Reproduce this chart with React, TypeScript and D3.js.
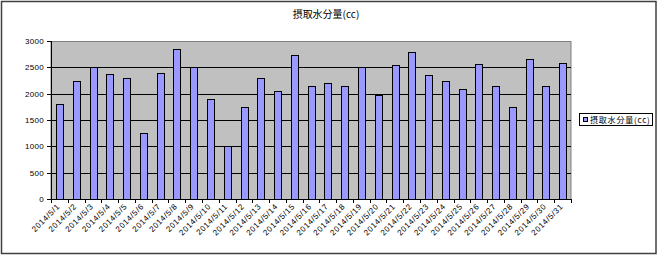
import React, { useEffect, useRef } from "react";
import * as d3 from "d3";

const categories: string[] = Array.from({ length: 31 }, (_, i) => `2014/5/${i + 1}`);
const values: number[] = [
  1800, 2250, 2500, 2380, 2300, 1250, 2400, 2850, 2500, 1900,
  1000, 1750, 2300, 2050, 2730, 2150, 2200, 2150, 2500, 1970,
  2540, 2800, 2360, 2250, 2080, 2560, 2150, 1750, 2650, 2150, 2590,
];
const yTicks: number[] = [0, 500, 1000, 1500, 2000, 2500, 3000];
const title = "摂取水分量(cc)";
const seriesName = "摂取水分量(cc)";

const W = 658;
const H = 255;
const plot = { left: 51, right: 571, top: 41, bottom: 199 };

export default function App() {
  const ref = useRef<SVGSVGElement>(null);
  useEffect(() => {
    const svg = d3.select(ref.current);
    svg.selectAll("*").remove();
    const font = "'Liberation Sans', 'Noto Sans CJK JP', sans-serif";
    const jfont = "'Noto Sans CJK JP', sans-serif";

    svg.append("rect").attr("x", 0).attr("y", 0).attr("width", W).attr("height", H).attr("fill", "#ffffff");
    svg.append("rect").attr("x", 1.5).attr("y", 1.5).attr("width", W - 3.5).attr("height", H - 3)
      .attr("fill", "#ffffff").attr("stroke", "#404040").attr("stroke-width", 1.5);

    const x = d3.scaleBand<string>().domain(categories).range([plot.left, plot.right]).paddingInner(0.6).paddingOuter(0.3);
    const xb = d3.scaleBand<string>().domain(categories).range([plot.left, plot.right]);
    const y = d3.scaleLinear().domain([0, 3000]).range([plot.bottom, plot.top]);

    svg.append("rect").attr("x", plot.left).attr("y", plot.top + 0.5)
      .attr("width", plot.right - plot.left).attr("height", plot.bottom - plot.top)
      .attr("fill", "#c0c0c0").attr("stroke", "#808080").attr("stroke-width", 1);

    svg.append("g").selectAll("line").data(yTicks.filter(t => t > 0 && t < 3000)).join("line")
      .attr("x1", plot.left).attr("x2", plot.right)
      .attr("y1", d => Math.round(y(d)) + 0.5).attr("y2", d => Math.round(y(d)) + 0.5)
      .attr("stroke", "#000000").attr("stroke-width", 1);

    svg.append("g").selectAll("rect").data(values).join("rect")
      .attr("x", (_, i) => Math.round(x(categories[i])!) + 0.5)
      .attr("y", d => Math.round(y(d)) + 0.5)
      .attr("width", Math.round(x.bandwidth()))
      .attr("height", d => Math.round(plot.bottom) - Math.round(y(d)))
      .attr("fill", "#9999ff").attr("stroke", "#000000").attr("stroke-width", 1);

    // axes
    svg.append("line").attr("x1", plot.left + 0.5).attr("x2", plot.left + 0.5)
      .attr("y1", plot.top).attr("y2", plot.bottom).attr("stroke", "#000").attr("stroke-width", 1);
    svg.append("line").attr("x1", plot.left).attr("x2", plot.right)
      .attr("y1", plot.bottom + 0.5).attr("y2", plot.bottom + 0.5).attr("stroke", "#000").attr("stroke-width", 1);

    svg.append("g").selectAll("line").data(yTicks).join("line")
      .attr("x1", plot.left - 4).attr("x2", plot.left)
      .attr("y1", d => Math.round(y(d)) + 0.5).attr("y2", d => Math.round(y(d)) + 0.5)
      .attr("stroke", "#000");
    svg.append("g").selectAll("text").data(yTicks).join("text")
      .attr("x", plot.left - 7).attr("y", d => y(d) + 3)
      .attr("text-anchor", "end").attr("font-family", font).attr("font-size", 8)
      .attr("letter-spacing", 0.3)
      .attr("fill", "#000").text(d => String(d));

    const bounds = [...categories.map(c => xb(c)!), plot.right];
    svg.append("g").selectAll("line").data(bounds).join("line")
      .attr("x1", d => Math.round(d) + 0.5).attr("x2", d => Math.round(d) + 0.5)
      .attr("y1", plot.bottom).attr("y2", plot.bottom + 4).attr("stroke", "#000");

    svg.append("g").selectAll("text").data(categories).join("text")
      .attr("transform", c => `translate(${xb(c)! + xb.bandwidth() / 2 + 1},${plot.bottom + 8}) rotate(-45)`)
      .attr("text-anchor", "end").attr("font-family", font).attr("font-size", 8)
      .attr("letter-spacing", 0.6)
      .attr("fill", "#000").text(c => c);

    svg.append("text").attr("x", 326).attr("y", 18).attr("text-anchor", "middle")
      .attr("font-family", jfont).attr("font-size", 10).attr("fill", "#000").text(title);

    // legend
    svg.append("rect").attr("x", 579.5).attr("y", 113.5).attr("width", 73).attr("height", 12)
      .attr("fill", "#fff").attr("stroke", "#000").attr("stroke-width", 1);
    svg.append("rect").attr("x", 583.5).attr("y", 117.5).attr("width", 4).attr("height", 4)
      .attr("fill", "#9999ff").attr("stroke", "#000");
    svg.append("text").attr("x", 590).attr("y", 122.5).attr("font-family", jfont)
      .attr("font-size", 8).attr("letter-spacing", 0.8).attr("fill", "#000").text(seriesName);
  }, []);
  return (
    <svg ref={ref} width={W} height={H} style={{ position: "absolute", left: 0, top: 0, display: "block" }} />
  );
}
